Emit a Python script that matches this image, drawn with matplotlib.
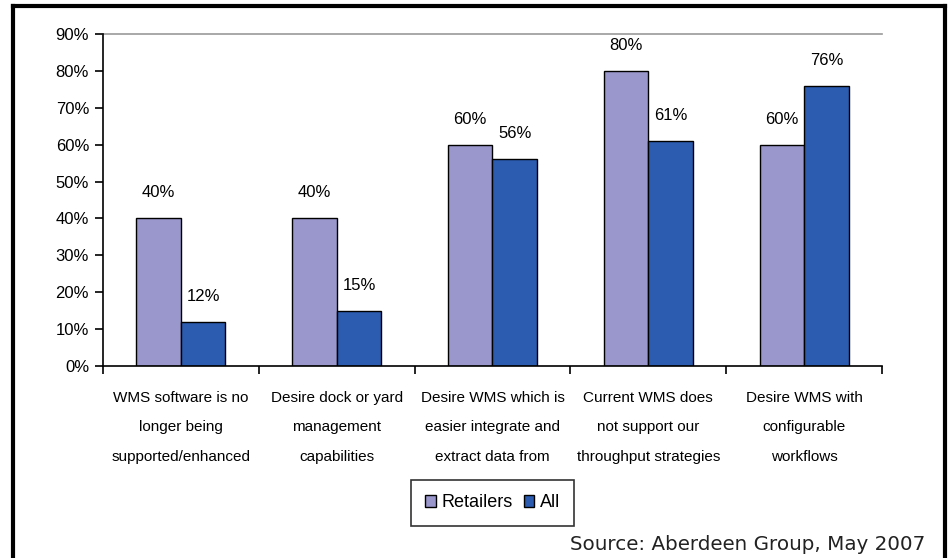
import matplotlib
matplotlib.use("Agg")
import matplotlib.pyplot as plt
import numpy as np
from matplotlib.patches import Rectangle
from matplotlib.lines import Line2D

categories = [
    "WMS software is no\nlonger being\nsupported/enhanced",
    "Desire dock or yard\nmanagement\ncapabilities",
    "Desire WMS which is\neasier integrate and\nextract data from",
    "Current WMS does\nnot support our\nthroughput strategies",
    "Desire WMS with\nconfigurable\nworkflows",
]
retailers = [40, 40, 60, 80, 60]
all_resp = [12, 15, 56, 61, 76]
y_ticks = [0, 10, 20, 30, 40, 50, 60, 70, 80, 90]

RET_COLOR = "#9a97cc"
ALL_COLOR = "#2b5cb0"

plt.rcParams["font.family"] = ["Liberation Sans", "DejaVu Sans"]

fig = plt.figure(figsize=(9.51, 5.58), dpi=100)
ax = fig.add_axes([0.1083, 0.344, 0.8191, 0.595])

x = np.arange(len(categories))
w = 0.286
b1 = ax.bar(x - w / 2, retailers, w, color=RET_COLOR, edgecolor="black", linewidth=1.0, label="Retailers")
b2 = ax.bar(x + w / 2, all_resp, w, color=ALL_COLOR, edgecolor="black", linewidth=1.0, label="All")

for bars, vals in ((b1, retailers), (b2, all_resp)):
    for r, v in zip(bars, vals):
        ax.annotate(f"{v}%", (r.get_x() + r.get_width() / 2, v), xytext=(0, 13),
                    textcoords="offset points", ha="center", va="bottom", fontsize=12)

ax.set_xlim(-0.5, len(categories) - 0.5)
ax.set_ylim(0, 90)
ax.set_yticks(y_ticks)
ax.set_yticklabels([f"{t}%" for t in y_ticks], fontsize=12)
ax.axhline(90, color="#999999", linewidth=1.2, clip_on=False)

ax.set_xticks(np.arange(len(categories) + 1) - 0.5)
ax.set_xticklabels([])
ax.set_xticks(x, minor=True)
ax.set_xticklabels(categories, minor=True, fontsize=11, linespacing=2.4)
ax.tick_params(axis="x", which="minor", length=0, pad=18)
ax.tick_params(axis="x", which="major", length=6, width=1.2, direction="out")
ax.tick_params(axis="y", length=6, width=1.2, direction="out", pad=4)

for s in ("top", "right"):
    ax.spines[s].set_visible(False)
for s in ("left", "bottom"):
    ax.spines[s].set_linewidth(1.2)

handles = [Rectangle((0, 0), 1, 1, facecolor=RET_COLOR, edgecolor="black"),
           Rectangle((0, 0), 1, 1, facecolor=ALL_COLOR, edgecolor="black")]
leg = fig.legend(handles, ["Retailers", "All"], loc="center", bbox_to_anchor=(0.518, 0.099),
                 ncol=2, fontsize=13, frameon=True, fancybox=False, edgecolor="black",
                 handlelength=0.6, handleheight=0.6, handletextpad=0.3, columnspacing=0.6,
                 borderpad=0.8, borderaxespad=0)
leg.get_frame().set_linewidth(1.2)

fig.text(0.973, 0.024, "Source: Aberdeen Group, May 2007", ha="right", va="center",
         fontsize=14.3, family="DejaVu Sans", color="#222222")

# outer frame
fig.add_artist(Line2D([0.0137, 0.0137], [-0.1, 0.99], color="black", linewidth=3, transform=fig.transFigure))
fig.add_artist(Line2D([0.0137, 0.9937], [0.99, 0.99], color="black", linewidth=3, transform=fig.transFigure))
fig.add_artist(Line2D([0.9937, 0.9937], [-0.1, 0.99], color="black", linewidth=3, transform=fig.transFigure))

fig.savefig("out.png", dpi=100)
